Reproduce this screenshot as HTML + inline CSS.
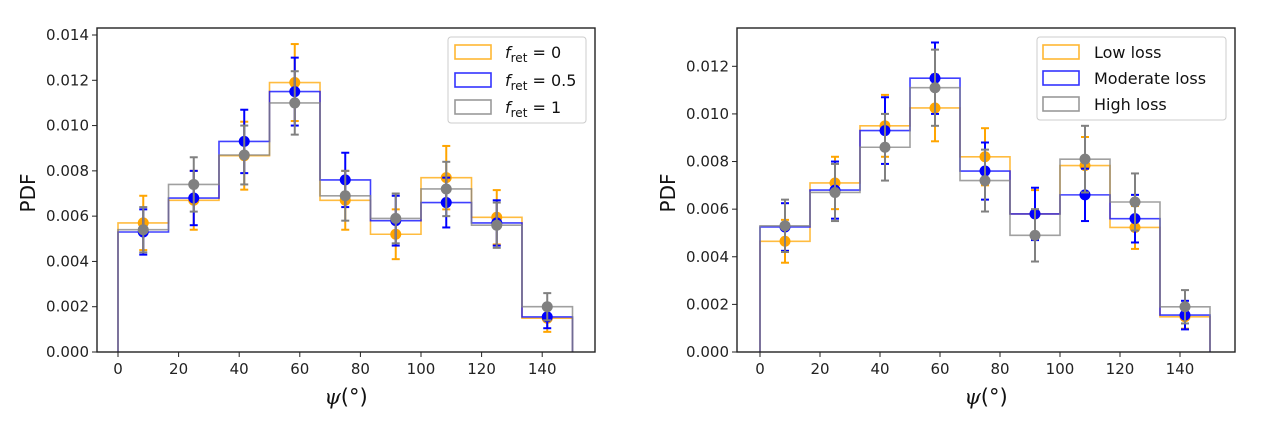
<!DOCTYPE html>
<html><head><meta charset="utf-8"><style>
body{margin:0;background:#fff;width:1262px;height:422px;overflow:hidden}
svg{font-family:"DejaVu Sans","Liberation Sans",sans-serif}
</style></head><body>
<svg id="s" width="1262" height="422" xmlns="http://www.w3.org/2000/svg"></svg>
<script>
const binEdges=[0,16.67,33.33,50,66.67,83.33,100,116.67,133.33,150];
const xTicks=[0,20,40,60,80,100,120,140];
const yTicksL=[0,0.002,0.004,0.006,0.008,0.010,0.012,0.014];
const yTicksR=[0,0.002,0.004,0.006,0.008,0.010,0.012];
const lOrange=[0.0057,0.0067,0.00867,0.0119,0.0067,0.0052,0.0077,0.00595,0.00149];
const lOrangeErr=[0.0012,0.0013,0.0015,0.0017,0.0013,0.0011,0.0014,0.0012,0.0006];
const lBlue=[0.0053,0.0068,0.0093,0.0115,0.0076,0.0058,0.0066,0.0057,0.00155];
const lBlueErr=[0.001,0.0012,0.0014,0.0015,0.0012,0.0011,0.0011,0.001,0.0005];
const lGray=[0.0054,0.0074,0.0087,0.0110,0.0069,0.0059,0.0072,0.0056,0.0020];
const lGrayErr=[0.001,0.0012,0.0013,0.0014,0.0011,0.0011,0.0012,0.001,0.0006];
const rOrange=[0.00465,0.0071,0.0095,0.01025,0.0082,0.0058,0.00783,0.00523,0.00148];
const rOrangeErr=[0.0009,0.0011,0.0013,0.0014,0.0012,0.001,0.0012,0.0009,0.0005];
const rBlue=[0.00525,0.0068,0.0093,0.0115,0.0076,0.0058,0.0066,0.0056,0.00155];
const rBlueErr=[0.001,0.0012,0.0014,0.0015,0.0012,0.0011,0.0011,0.001,0.0006];
const rGray=[0.0053,0.0067,0.0086,0.0111,0.0072,0.0049,0.0081,0.0063,0.0019];
const rGrayErr=[0.0011,0.0012,0.0014,0.0016,0.0013,0.0011,0.0014,0.0012,0.0007];
const legendL=["0","0.5","1"];
const legendR=["Low loss","Moderate loss","High loss"];

const NS="http://www.w3.org/2000/svg";
const svg=document.getElementById('s');
function mk(tag,attrs,parent){const e=document.createElementNS(NS,tag);for(const k in attrs)e.setAttribute(k,attrs[k]);(parent||svg).appendChild(e);return e;}
const colors=["#ffa500","#0000ff","#808080"];

function panel(cfg){
  const g=mk('g',{});
  
  
  const X=v=>cfg.x0+v*cfg.sx;
  const Y=v=>cfg.bottom-v/cfg.ymax*(cfg.bottom-cfg.top0);
  cfg.series.forEach((s,si)=>{
    const sg=mk('g',{},g);
    
    
    let d='M'+X(binEdges[0])+','+Y(0);
    s.vals.forEach((v,i)=>{d+=' L'+X(binEdges[i])+','+Y(v)+' L'+X(binEdges[i+1])+','+Y(v);});
    d+=' L'+X(binEdges[binEdges.length-1])+','+Y(0);
    const p=mk('path',{d:d,fill:'none',stroke:colors[si],'stroke-width':1.6,'stroke-opacity':0.75},sg);
    
    
  });
  cfg.series.forEach((s,si)=>{
    s.vals.forEach((v,i)=>{
      const cx=X((binEdges[i]+binEdges[i+1])/2);
      const e=s.err[i];
      const eb=mk('g',{stroke:colors[si],'stroke-width':2},g);
      
      
      mk('line',{x1:cx,x2:cx,y1:Y(v-e),y2:Y(v+e)},eb);
      mk('line',{x1:cx-4,x2:cx+4,y1:Y(v-e),y2:Y(v-e)},eb);
      mk('line',{x1:cx-4,x2:cx+4,y1:Y(v+e),y2:Y(v+e)},eb);
      const c=mk('circle',{cx:cx,cy:Y(v),r:5.5,fill:colors[si]},g);
      
      
    });
  });
  const fr=mk('rect',{x:cfg.left,y:cfg.top,width:cfg.right-cfg.left,height:cfg.bottom-cfg.top,fill:'none',stroke:'#222','stroke-width':1.4},g);
  
  
  xTicks.forEach(t=>{
    mk('line',{x1:X(t),x2:X(t),y1:cfg.bottom,y2:cfg.bottom+5,stroke:'#222'},g);
    const tx=mk('text',{x:X(t),y:cfg.bottom+22,'text-anchor':'middle','font-size':15,fill:'#222'},g);
    tx.textContent=t;
    
    
  });
  cfg.yTicks.forEach(t=>{
    mk('line',{x1:cfg.left-5,x2:cfg.left,y1:Y(t),y2:Y(t),stroke:'#222'},g);
    const tx=mk('text',{x:cfg.left-8,y:Y(t)+5,'text-anchor':'end','font-size':15,fill:'#222'},g);
    tx.textContent=t.toFixed(3);
    
    
  });
  const yl=mk('text',{x:0,y:0,transform:`translate(${cfg.left-62},193) rotate(-90)`,'text-anchor':'middle','font-size':20,fill:'#111'},g);
  yl.textContent='PDF';
  
  
  const xl=mk('text',{x:(cfg.left+cfg.right)/2,y:404,'text-anchor':'middle','font-size':21,fill:'#111'},g);
  xl.innerHTML='<tspan font-style="italic" font-family="DejaVu Serif, serif">ψ</tspan>(°)';
  
  
  const L=cfg.legend;
  const lg=mk('g',{},g);
  
  
  mk('rect',{x:L.x,y:L.y,width:L.w,height:L.h,rx:3,fill:'#fff','fill-opacity':0.85,stroke:'#ccc'},lg);
  L.labels.forEach((lab,i)=>{
    const cy=L.rows[i];
    const en=mk('g',{},lg);
    
    
    mk('rect',{x:L.px,y:cy-7,width:36,height:14,fill:'none',stroke:colors[i],'stroke-width':1.6,'stroke-opacity':0.8},en);
    const t=mk('text',{x:L.tx,y:cy+6,'font-size':16,fill:'#111'},en);
    if(cfg.fret){
      t.innerHTML='<tspan font-style="italic">f</tspan><tspan font-size="12" dy="4">ret</tspan><tspan dy="-4"> = '+lab+'</tspan>';
    } else t.textContent=lab;
  });
}
panel({name:'left-chart',left:97,right:595,top:28,top0:35,bottom:352,ymax:0.014,x0:118,sx:3.03,yTicks:yTicksL,fret:true,
  series:[{key:'fret-0',vals:lOrange,err:lOrangeErr},{key:'fret-0.5',vals:lBlue,err:lBlueErr},{key:'fret-1',vals:lGray,err:lGrayErr}],
  legend:{x:448,y:37,w:138,h:86,rows:[52,80,107],px:455,tx:505,labels:legendL}});
panel({name:'right-chart',left:737,right:1235,top:28,top0:66.3,bottom:352,ymax:0.012,x0:760,sx:3.0,yTicks:yTicksR,fret:false,
  series:[{key:'low-loss',vals:rOrange,err:rOrangeErr},{key:'moderate-loss',vals:rBlue,err:rBlueErr},{key:'high-loss',vals:rGray,err:rGrayErr}],
  legend:{x:1037,y:37,w:189,h:83,rows:[52,78,104],px:1043,tx:1094,labels:legendR}});
</script>
</body></html>
